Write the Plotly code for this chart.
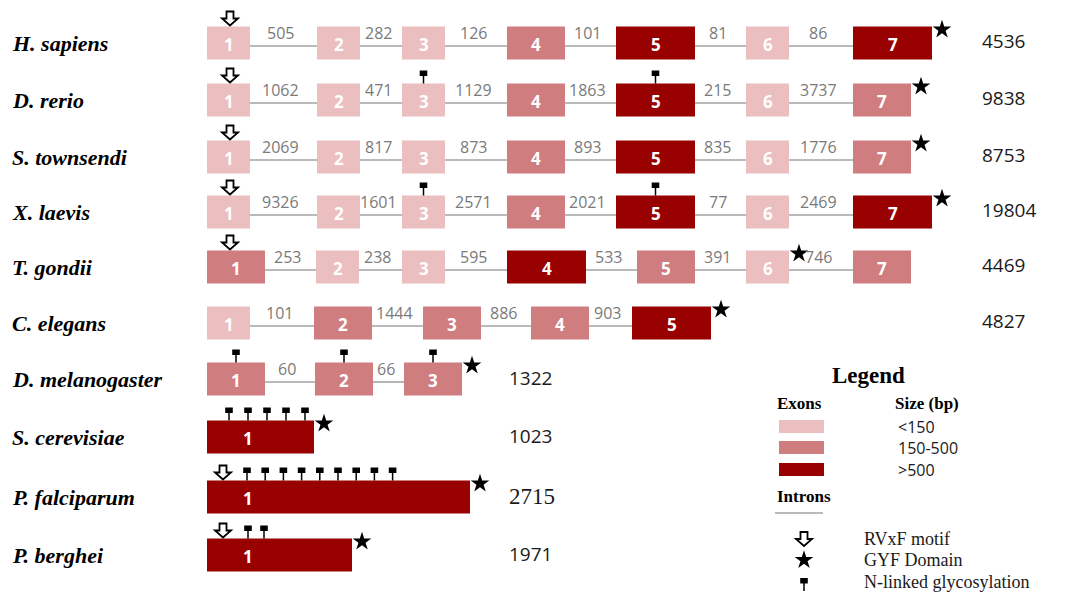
import plotly.graph_objects as go

# ---------------- data ----------------
species = ["H. sapiens", "D. rerio", "S. townsendi", "X. laevis", "T. gondii",
           "C. elegans", "D. melanogaster", "S. cerevisiae", "P. falciparum", "P. berghei"]
# exon size class: 0 = <150 bp, 1 = 150-500 bp, 2 = >500 bp
exon_class = [
    [0, 0, 0, 1, 2, 0, 2],
    [0, 0, 0, 1, 2, 0, 1],
    [0, 0, 0, 1, 2, 0, 1],
    [0, 0, 0, 1, 2, 0, 2],
    [1, 0, 0, 2, 1, 0, 1],
    [0, 1, 1, 1, 2],
    [1, 1, 1],
    [2],
    [2],
    [2],
]
intron_sizes = [
    [505, 282, 126, 101, 81, 86],
    [1062, 471, 1129, 1863, 215, 3737],
    [2069, 817, 873, 893, 835, 1776],
    [9326, 1601, 2571, 2021, 77, 2469],
    [253, 238, 595, 533, 391, 746],
    [101, 1444, 886, 903],
    [60, 66],
    [],
    [],
    [],
]
gene_total = [4536, 9838, 8753, 19804, 4469, 4827, 1322, 1023, 2715, 1971]
has_rvxf = [True, True, True, True, True, False, False, False, True, True]
gyf_exon = [7, 7, 7, 7, 6, 5, 3, 1, 1, 1]          # GYF domain after this exon
glyc_exons = [[], [3, 5], [], [3, 5], [], [], [1, 2, 3], [], [], []]
glyc_count_single = [0, 0, 0, 0, 0, 0, 0, 5, 9, 2]  # sites on single-exon genes
legend_sizes = ["<150", "150-500", ">500"]
legend_symbols = ["RVxF motif", "GYF Domain", "N-linked glycosylation"]

# ---------------- layout / style ----------------
W, H = 1084, 597
ROW_Y = [43, 100, 157, 212, 267, 323, 379, 437, 497, 555]
BOX_H = 33
CLASS_W = [43, 58, 79]
COLORS = ["#EBBEBF", "#D07D80", "#990000"]
COL_X_DEFAULT = [207, 317, 402, 507, 616, 746, 853]
COL_X_ROW = {4: [207, 316, 402, 507, 637, 746, 853],
             5: [207, 314, 423, 531, 632],
             6: [207, 315, 404]}
SINGLE_W = {7: 107, 8: 263, 9: 145}
GLYC_START = {7: 22, 8: 40, 9: 41}
GLYC_STEP = {7: 19, 8: 18.2, 9: 16}
TOTAL_X_TOP = 980
TOTAL_X_LOW = 507
INTRON_COL = "#A3A3A3"
SANS = "Open Sans"
SERIF = "Liberation Serif"
STAR_SIZE = 14

shapes, annos = [], []
star_x, star_y = [], []


def arrow(cx, bottom):
    top = bottom - 14
    p = (f"M {cx-3.5},{top} L {cx+3.5},{top} L {cx+3.5},{top+7} L {cx+8},{top+7} "
         f"L {cx},{top+14} L {cx-8},{top+7} L {cx-3.5},{top+7} Z")
    shapes.append(dict(type="path", path=p, xref="x", yref="y",
                       line=dict(color="black", width=1.8), fillcolor="white"))


def glyc(cx, box_top):
    shapes.append(dict(type="line", xref="x", yref="y", x0=cx, x1=cx,
                       y0=box_top, y1=box_top - 8, line=dict(color="black", width=1.5)))
    shapes.append(dict(type="rect", xref="x", yref="y", x0=cx - 3.8, x1=cx + 3.8,
                       y0=box_top - 13, y1=box_top - 7.5, fillcolor="black",
                       line=dict(width=0)))


for r, name in enumerate(species):
    yc = ROW_Y[r]
    top, bot = yc - BOX_H / 2, yc + BOX_H / 2
    annos.append(dict(x=10, y=yc, text=f"<b><i>{name}</i></b>", xanchor="left",
                      yanchor="middle", showarrow=False,
                      font=dict(family=SERIF, size=22, color="black")))
    classes = exon_class[r]
    boxes = []
    if r in SINGLE_W:
        x0 = COL_X_DEFAULT[0]
        boxes.append((x0, x0 + SINGLE_W[r]))
    else:
        cols = COL_X_ROW.get(r, COL_X_DEFAULT)
        for i, c in enumerate(classes):
            boxes.append((cols[i], cols[i] + CLASS_W[c]))
    # introns
    for i, size in enumerate(intron_sizes[r]):
        xa, xb = boxes[i][1], boxes[i + 1][0]
        ly = yc + 3
        shapes.append(dict(type="line", xref="x", yref="y", x0=xa, x1=xb, y0=ly, y1=ly,
                           line=dict(color=INTRON_COL, width=1.6), layer="below"))
        annos.append(dict(x=(xa + xb) / 2 - 3, y=ly - 0.5, text=str(size), showarrow=False,
                          xanchor="center", yanchor="bottom",
                          font=dict(family=SANS, size=16, color="#7A7A7A")))
    # exons
    for i, (xa, xb) in enumerate(boxes):
        shapes.append(dict(type="rect", xref="x", yref="y", x0=xa, x1=xb, y0=top, y1=bot,
                           fillcolor=COLORS[classes[i]], line=dict(width=0)))
        nx = (xa + xb) / 2 if r not in SINGLE_W else xa + 41
        annos.append(dict(x=nx, y=yc + 1.5, text=f"<b>{i + 1}</b>", showarrow=False,
                          xanchor="center", yanchor="middle",
                          font=dict(family=SANS, size=17, color="white")))
        if (i + 1) in glyc_exons[r]:
            glyc((xa + xb) / 2, top)
    # single-exon glycosylation sites
    for k in range(glyc_count_single[r]):
        glyc(boxes[0][0] + GLYC_START[r] + k * GLYC_STEP[r], top)
    # RVxF motif
    if has_rvxf[r]:
        ax = boxes[0][0] + (23 if r not in SINGLE_W else 16)
        arrow(ax, top - 1)
    # GYF domain star
    gx = boxes[gyf_exon[r] - 1][1]
    star_x.append(gx + 10)
    star_y.append(top + 3)
    # gene total
    if r < 6:
        annos.append(dict(x=TOTAL_X_TOP, y=yc - 2, text=str(gene_total[r]), showarrow=False,
                          xanchor="left", yanchor="middle",
                          font=dict(family=SANS, size=19, color="#1A1A1A")))
    else:
        fam, sz = (SERIF, 23) if species[r] == "P. falciparum" else (SANS, 19)
        annos.append(dict(x=TOTAL_X_LOW, y=yc - 1, text=str(gene_total[r]), showarrow=False,
                          xanchor="left", yanchor="middle",
                          font=dict(family=fam, size=sz, color="#1A1A1A")))

# ---------------- legend ----------------
annos.append(dict(x=830, y=375, text="<b>Legend</b>", showarrow=False, xanchor="left",
                  yanchor="middle", font=dict(family=SERIF, size=23, color="black")))
annos.append(dict(x=775, y=403, text="<b>Exons</b>", showarrow=False, xanchor="left",
                  yanchor="middle", font=dict(family=SERIF, size=17, color="black")))
annos.append(dict(x=893, y=403, text="<b>Size (bp)</b>", showarrow=False, xanchor="left",
                  yanchor="middle", font=dict(family=SERIF, size=17, color="black")))
sw_y = [426.5, 447.5, 469.5]
for i, lab in enumerate(legend_sizes):
    shapes.append(dict(type="rect", xref="x", yref="y", x0=779, x1=824,
                       y0=sw_y[i] - 6.5, y1=sw_y[i] + 6.5, fillcolor=COLORS[i],
                       line=dict(width=0)))
    annos.append(dict(x=896, y=sw_y[i], text=lab.replace("<", "&lt;"), showarrow=False,
                      xanchor="left", yanchor="middle",
                      font=dict(family=SANS, size=16, color="#1A1A1A")))
annos.append(dict(x=775, y=496, text="<b>Introns</b>", showarrow=False, xanchor="left",
                  yanchor="middle", font=dict(family=SERIF, size=17, color="black")))
shapes.append(dict(type="line", xref="x", yref="y", x0=775, x1=823, y0=513, y1=513,
                   line=dict(color=INTRON_COL, width=1.6)))
sym_y = [539, 560, 582]
arrow(804, sym_y[0] + 7)
star_x.append(804)
star_y.append(sym_y[1])
glyc(804, sym_y[2] + 9)
for i, lab in enumerate(legend_symbols):
    annos.append(dict(x=862, y=sym_y[i], text=lab, showarrow=False, xanchor="left",
                      yanchor="middle", font=dict(family=SERIF, size=18, color="#1A1A1A")))

fig = go.Figure()
fig.add_trace(go.Scatter(x=star_x, y=star_y, mode="markers", hoverinfo="skip",
                         marker=dict(symbol="star", size=STAR_SIZE, color="black",
                                     line=dict(width=0))))
fig.update_layout(
    width=W, height=H, margin=dict(l=0, r=0, t=0, b=0),
    paper_bgcolor="white", plot_bgcolor="white", showlegend=False,
    xaxis=dict(range=[0, W], visible=False, fixedrange=True),
    yaxis=dict(range=[H, 0], visible=False, fixedrange=True),
    shapes=shapes, annotations=annos,
)
fig.write_html("out.html", config={"displayModeBar": False},
               post_script="document.body.style.margin='0';")
